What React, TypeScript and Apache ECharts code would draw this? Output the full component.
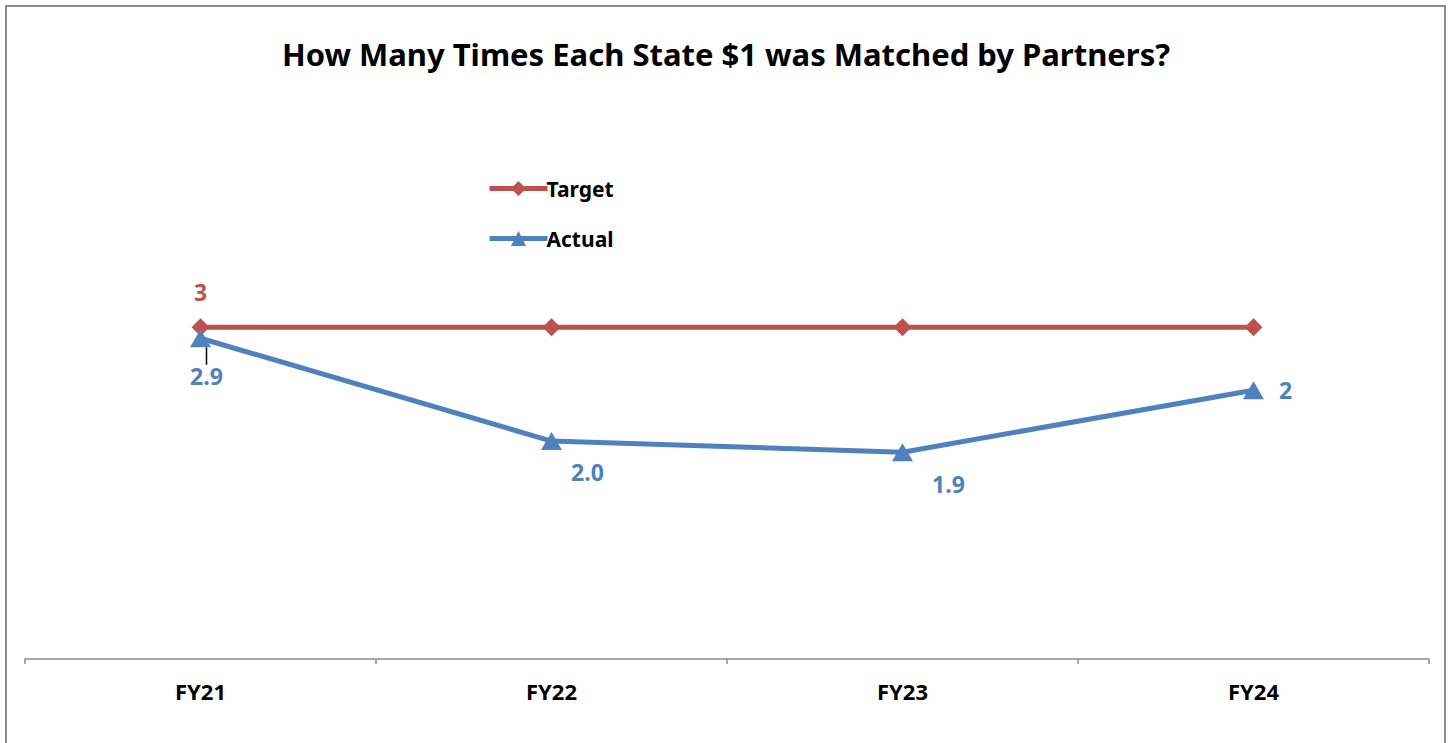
import React, { useEffect, useRef } from "react";
import * as echarts from "echarts";

const categories = ["FY21", "FY22", "FY23", "FY24"];
const targetValues = [3, 3, 3, 3];
const actualValues = [2.9, 1.97, 1.87, 2.43];
const targetLabels = ["3", "", "", ""];
const actualLabels = ["2.9", "2.0", "1.9", "2"];

const RED = "#C0504D";
const BLUE = "#4F81BD";
const FONT = "'Noto Sans', 'Open Sans', sans-serif";

export default function App() {
  const ref = useRef<HTMLDivElement>(null);
  useEffect(() => {
    document.body.style.margin = "0";
    const chart = echarts.init(ref.current!, null, { renderer: "svg" });
    const actualShift = [
      [6, 38],
      [36, 31],
      [46, 32],
      [32, 0],
    ];
    chart.setOption({
      animation: false,
      backgroundColor: "#ffffff",
      title: {
        text: "How Many Times Each State $1 was Matched by Partners?",
        left: "center",
        top: 33,
        textStyle: { fontFamily: FONT, fontSize: 31, fontWeight: "bold", color: "#000" },
      },
      legend: {
        orient: "vertical",
        left: 482,
        top: 173,
        itemGap: 29,
        itemWidth: 58,
        itemHeight: 19,
        lineStyle: { width: 5 },
        textStyle: { fontFamily: FONT, fontSize: 21, fontWeight: "bold", color: "#000", padding: [0, 0, 0, -6] },
        data: ["Target", "Actual"],
      },
      grid: { left: 25, right: 23, top: 106, bottom: 84 },
      xAxis: {
        type: "category",
        data: categories,
        boundaryGap: true,
        axisLine: { lineStyle: { color: "#8c8c8c", width: 1.5 } },
        axisTick: { show: true, length: 5, lineStyle: { color: "#8c8c8c", width: 1.5 } },
        axisLabel: { fontFamily: FONT, fontSize: 22, fontWeight: "bold", color: "#000", margin: 21 },
      },
      yAxis: {
        type: "value",
        min: 0,
        max: 5,
        show: false,
        splitLine: { show: false },
      },
      graphic: [
        {
          type: "rect",
          shape: { x: 6, y: 6, width: 1439, height: 800 },
          style: { fill: "none", stroke: "#8c8c8c", lineWidth: 2 },
          silent: true,
        },
      ],
      series: [
        {
          name: "Target",
          type: "line",
          data: targetValues.map((v, i) => ({
            value: v,
            label: {
              show: targetLabels[i] !== "",
              formatter: targetLabels[i],
              position: "inside",
              offset: [0, -35],
              color: RED,
              fontFamily: FONT,
              fontSize: 23,
              fontWeight: "bold",
            },
          })),
          symbol: "diamond",
          symbolSize: 18,
          itemStyle: { color: RED },
          lineStyle: { color: RED, width: 5 },
          z: 2,
        },
        {
          name: "Actual",
          type: "line",
          data: actualValues.map((v, i) => ({
            value: v,
            label: {
              show: true,
              formatter: actualLabels[i],
              position: "inside",
              color: BLUE,
              fontFamily: FONT,
              fontSize: 23,
              fontWeight: "bold",
            },
            labelLine: { show: i === 0, smooth: false, lineStyle: { color: "#000", width: 1.5 } },
          })),
          labelLayout: (params: any) => ({
            dx: actualShift[params.dataIndex][0],
            dy: actualShift[params.dataIndex][1],
          }),
          symbol: "triangle",
          symbolSize: [21, 18],
          itemStyle: { color: BLUE },
          lineStyle: { color: BLUE, width: 5 },
          z: 3,
        },
      ],
    });
    return () => chart.dispose();
  }, []);
  return (
    <div
      ref={ref}
      style={{ position: "absolute", left: 0, top: 0, width: 1452, height: 743 }}
    />
  );
}
